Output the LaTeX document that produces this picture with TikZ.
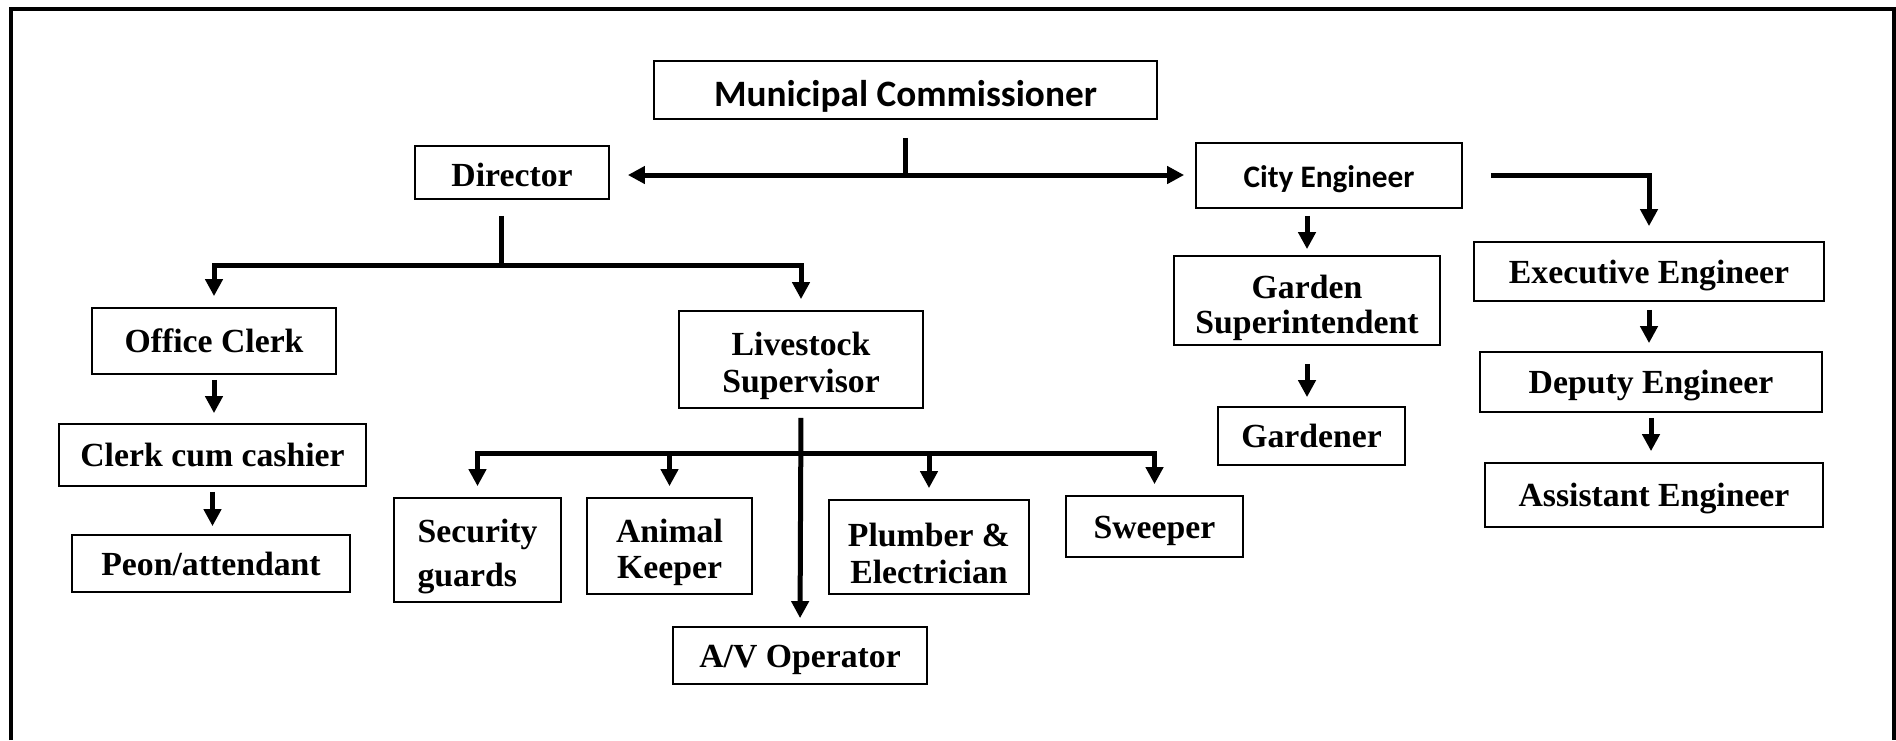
\documentclass[tikz,border=0pt]{standalone}
\usepackage{fontspec}
\setmainfont{Liberation Serif}
\newfontfamily\calibfont{Carlito}
\usepackage{tikz}
\usetikzlibrary{
  positioning,
  arrows.meta
}
\tikzset{
  post/.style={draw,line width=0.5pt,inner sep=0pt,align=center,
    font=\bfseries\fontsize{9.6}{10.5}\selectfont,text height=0.68em,text depth=0pt},
  twoline/.style={text height=#1em,text depth=},
  sanspost/.style={post,font=\calibfont\bfseries\fontsize{#1}{12}\selectfont},
  boxwh/.style 2 args={minimum width=#1mm,minimum height=#2mm},
  conn/.style={line width=0.5mm},
  arr/.style={conn,-{Triangle[length=1.7mm,width=1.7mm]}},
  biarr/.style={conn,{Triangle[length=1.7mm,width=1.7mm]}-{Triangle[length=1.7mm,width=1.7mm]}}
}
\begin{document}
\begin{tikzpicture}[x=0.1mm,y=-0.1mm]
                \useasboundingbox (0,0) rectangle (1896,740);
                \draw[line width=0.35mm] (11,740) -- (11,9) -- (1894,9) -- (1894,740);
                \node[sanspost=10.6,boxwh={50.3}{5.8},text height=0.92em] (mc) at (905.5,90) {Municipal Commissioner};
                \node[post,boxwh={19.4}{5.3},text height=0.82em] (dir) at (512,172.5) {Director};
                \node[sanspost=8.9,boxwh={26.6}{6.5}] (ceng) at (1329,175.5) {City Engineer};
                \node[post,boxwh={24.4}{6.6}] (oclerk) at (214,341) {Office Clerk};
                \node[post,boxwh={30.7}{6.2}] (ccash) at (212.5,455) {Clerk cum cashier};
                \node[post,boxwh={27.8}{5.7}] (peon) at (211,563.5) {Peon/attendant};
                \node[post,twoline=2.08,boxwh={24.4}{9.7}] (ls) at (801,359.5) {Livestock\\Supervisor};
                \node[post,twoline=2.29,boxwh={16.7}{10.4},align=left,font=\bfseries\fontsize{9.6}{12.5}\selectfont] (sec) at (477.5,550) {Security\\guards};
                \node[post,twoline=2.08,boxwh={16.5}{9.6}] (akeep) at (669.5,546) {Animal\\Keeper};
                \node[post,twoline=2.08,boxwh={20}{9.4}] (plumb) at (929,547) {Plumber \&\\Electrician};
                \node[post,boxwh={17.7}{6.1}] (sweep) at (1154.5,526.5) {Sweeper};
                \node[post,boxwh={25.4}{5.7}] (av) at (800,655.5) {A/V Operator};
                \node[post,twoline=2.07,boxwh={26.6}{8.9},font=\bfseries\fontsize{9.6}{9.8}\selectfont] (gsup) at (1307,300.5) {Garden\\Superintendent};
                \node[post,boxwh={18.7}{5.8}] (gard) at (1311.5,436) {Gardener};
                \node[post,boxwh={35}{5.9}] (exec) at (1649,271.5) {Executive Engineer};
                \node[post,boxwh={34.2}{6}] (dep) at (1651,382) {Deputy Engineer};
                \node[post,boxwh={33.8}{6.4}] (asst) at (1654,495) {Assistant Engineer};
                \coordinate (mcjoin) at (905,175);
                \coordinate (dirbar) at (501,265);
                \coordinate (lsbar) at (801,453);
                \draw[conn,shorten <=1.8mm] (mcjoin |- mc.south) -- (mcjoin);
                \draw[biarr,shorten <=1.8mm,shorten >=1.1mm] (dir.east |- mcjoin) -- (ceng.west |- mcjoin);
                \draw[conn,shorten <=1.6mm] (dirbar |- dir.south) -- (dirbar);
                \draw[arr,shorten >=1.1mm] (dirbar) -| (oclerk.north);
                \draw[arr,shorten >=1.1mm] (dirbar) -| (ls.north);
                \draw[arr,shorten <=0.5mm,shorten >=1mm] (oclerk.south) -- (oclerk.south |- ccash.north);
                \draw[arr,shorten <=0.5mm,shorten >=0.8mm] (ccash.south) -- (ccash.south |- peon.north);
                \draw[arr,shorten <=0.9mm,shorten >=0.8mm] (ls.south) -- (av.north);
                \foreach \n in {sec,akeep,plumb,sweep}
                    \draw[arr,shorten >=1.1mm] (lsbar) -| (\n.north);
                \draw[arr,shorten <=0.7mm,shorten >=0.6mm] (gsup.north |- ceng.south) -- (gsup.north);
                \draw[arr,shorten <=1.8mm,shorten >=0.9mm] (gsup.south) -- (gsup.south |- gard.north);
                \draw[arr,shorten <=2.8mm,shorten >=1.5mm] (ceng.east) -| (exec.north);
                \draw[arr,shorten <=0.8mm,shorten >=0.8mm] (exec.south) -- (exec.south |- dep.north);
                \draw[arr,shorten <=0.5mm,shorten >=1.1mm] (dep.south) -- (dep.south |- asst.north);
\end{tikzpicture}
\end{document}
